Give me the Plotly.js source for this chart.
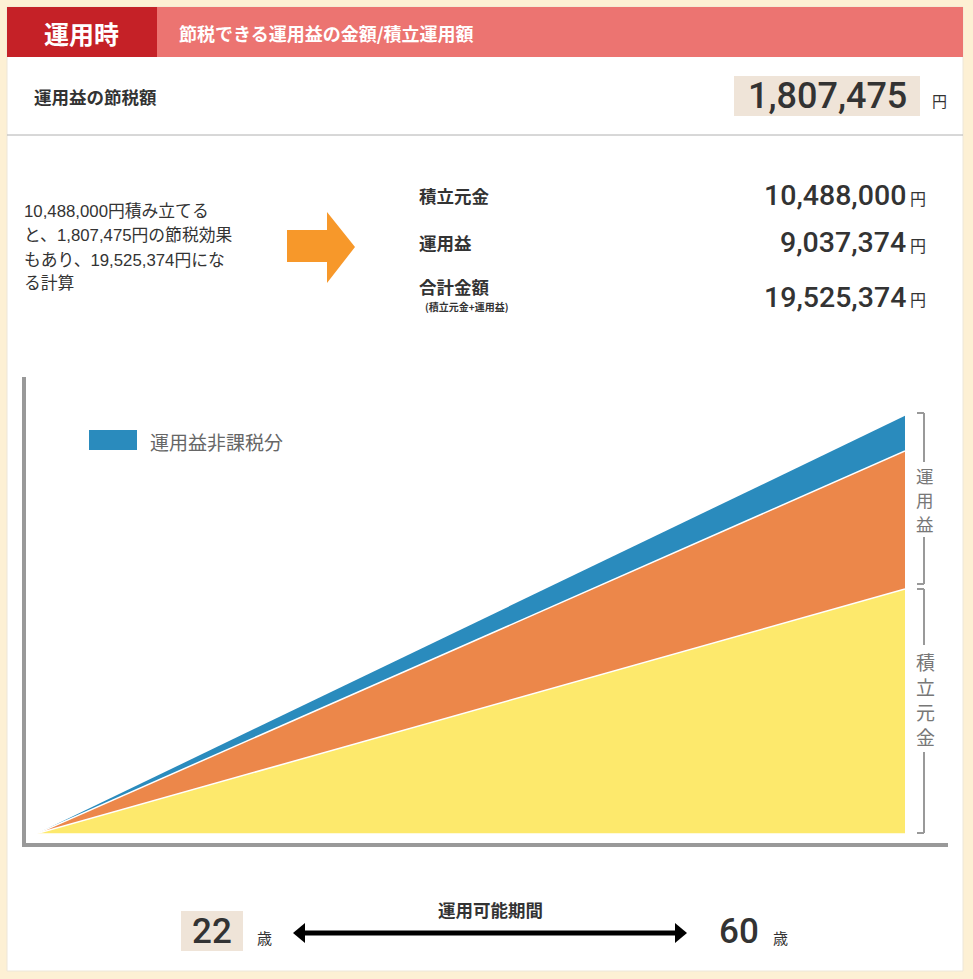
<!DOCTYPE html>
<html>
<head>
<meta charset="utf-8">
<script src="https://cdn.plot.ly/plotly-3.0.1.min.js"></script>
<style>html,body{margin:0;padding:0;background:#FDF0D4;}#chart{width:973px;height:979px;}</style>
</head>
<body>
<div id="chart"></div>
<script>
// ---- data ----
const ages = [22, 60];
const principal = [0, 1048.8];     // 積立元金 (chart units)
const earnings = [0, 592];         // 運用益 band
const taxFree = [0, 151];          // 運用益非課税分 band
const seriesNames = ['積立元金', '運用益', '運用益非課税分'];
const headerTag = '運用時';
const headerTitle = '節税できる運用益の金額/積立運用額';
const savingLabel = '運用益の節税額';
const savingValue = '1,807,475';
const paragraph = ['10,488,000円積み立てる', 'と、1,807,475円の節税効果', 'もあり、19,525,374円にな', 'る計算'];
const tableLabels = ['積立元金', '運用益', '合計金額'];
const tableValues = ['10,488,000', '9,037,374', '19,525,374'];
const tableNote = '(積立元金+運用益)';
const periodLabel = '運用可能期間';
const startAge = '22', endAge = '60';

// ---- helpers ----
const W = 973, H = 979;
const px = x => x / W;
const py = y => 1 - y / H;
const CJK = '"Noto Sans CJK JP", sans-serif';
const NUM = 'Roboto, "Noto Sans CJK JP", sans-serif';
const PARA = '"Liberation Sans", "Noto Sans CJK JP", sans-serif';

function rect(x0, y0, x1, y1, fill, extra) {
  return Object.assign({type: 'rect', xref: 'paper', yref: 'paper', x0: px(x0), x1: px(x1), y0: py(y1), y1: py(y0),
    fillcolor: fill, line: {width: 0}, layer: 'below'}, extra || {});
}
function line(x0, y0, x1, y1, color, w) {
  return {type: 'line', xref: 'paper', yref: 'paper', x0: px(x0), x1: px(x1), y0: py(y0), y1: py(y1),
    line: {color: color, width: w}, layer: 'above'};
}
function poly(pts, fill) {
  const d = pts.map((p, i) => (i ? 'L' : 'M') + px(p[0]) + ',' + py(p[1])).join(' ') + ' Z';
  return {type: 'path', xref: 'paper', yref: 'paper', path: d, fillcolor: fill, line: {width: 0}, layer: 'above'};
}
function txt(text, x, y, size, color, opts) {
  const o = Object.assign({}, opts || {});
  const fam = o.family || CJK; const wt = o.weight || 'normal';
  delete o.family; delete o.weight;
  return Object.assign({text: text, xref: 'paper', yref: 'paper', x: px(x), y: py(y), showarrow: false,
    xanchor: 'left', yanchor: 'middle', font: {family: fam, size: size, color: color, weight: wt}}, o);
}

const shapes = [
  rect(7, 7, 963, 971, '#FFFFFF', {line: {color: '#EDE6D8', width: 1}}),
  rect(7, 7, 157, 57, '#C52127'),
  rect(157, 7, 963, 57, '#EC7471'),
  rect(734, 76, 920, 116, '#EFE4D8'),
  line(7, 135, 963, 135, '#B0B0B0', 1),
  poly([[287, 230], [327, 230], [327, 212], [355, 247], [327, 283], [327, 262], [287, 262]], '#F7982A'),
  line(24, 377, 24, 847, '#999999', 4),
  line(22, 845, 948, 845, '#999999', 4),
  // brackets
  line(917, 413, 924, 413, '#999999', 2),
  line(924, 413, 924, 462, '#999999', 2),
  line(924, 537, 924, 584, '#999999', 2),
  line(917, 584, 924, 584, '#999999', 2),
  line(917, 589, 924, 589, '#999999', 2),
  line(924, 589, 924, 645, '#999999', 2),
  line(924, 752, 924, 833, '#999999', 2),
  line(917, 833, 924, 833, '#999999', 2),
  // legend swatch
  rect(89, 430, 137, 450, '#2A8BBD', {layer: 'above'}),
  // bottom
  rect(181, 911, 243, 951, '#EFE4D8'),
  line(302, 933, 678, 933, '#000000', 5),
  poly([[293, 933], [305, 923], [305, 943]], '#000000'),
  poly([[687, 933], [675, 923], [675, 943]], '#000000')
];

const annotations = [
  txt(headerTag, 81, 33, 25, '#FFFFFF', {xanchor: 'center', weight: 'bold'}),
  txt(headerTitle, 177, 33, 18, '#FFFFFF', {weight: 'bold'}),
  txt(savingLabel, 32, 97, 17.5, '#333333', {weight: 'bold'}),
  txt(savingValue, 827, 96, 36, '#333333', {xanchor: 'center', family: NUM, weight: 500}),
  txt('円', 930, 101, 15, '#333333'),
  txt(tableNote, 466, 307, 10, '#333333', {xanchor: 'center', weight: 'bold'}),
  txt(periodLabel, 490, 909, 17.5, '#333333', {xanchor: 'center', weight: 'bold'}),
  txt(startAge, 212, 931, 35, '#333333', {xanchor: 'center', family: NUM, weight: 500}),
  txt('歳', 255, 937, 15, '#333333'),
  txt(endAge, 739, 931, 35, '#333333', {xanchor: 'center', family: NUM, weight: 500}),
  txt('歳', 771, 937, 15, '#333333'),
  txt(seriesNames[2], 148, 441, 19, '#666666')
];
// vertical bracket labels, one character per line
'運用益'.split('').forEach((c, i) => annotations.push(txt(c, 925, 475.5 + i * 24, 17.5, '#777777', {xanchor: 'center'})));
'積立元金'.split('').forEach((c, i) => annotations.push(txt(c, 925, 661 + i * 25, 19, '#777777', {xanchor: 'center'})));
paragraph.forEach((s, i) => {
  annotations.push(txt(s, 22, [211, 236, 260, 283][i], 16.8, '#333333', {family: PARA}));
});
const valY = [196, 243, 297];
tableLabels.forEach((s, i) => {
  annotations.push(txt(s, 417, [195, 243, 287][i], 17.5, '#333333', {weight: 'bold'}));
  annotations.push(txt(tableValues[i], 908, valY[i], 28.5, '#333333', {xanchor: 'right', family: NUM, weight: 500}));
  annotations.push(txt('円', 908, valY[i] + 2, 16, '#333333'));
});

const traces = [
  {x: ages, y: principal, name: seriesNames[0], type: 'scatter', mode: 'lines', stackgroup: 'a',
   fillcolor: '#FDE96C', line: {color: '#FFFFFF', width: 1.5}, hoverinfo: 'skip'},
  {x: ages, y: earnings, name: seriesNames[1], type: 'scatter', mode: 'lines', stackgroup: 'a',
   fillcolor: '#EC874A', line: {color: '#FFFFFF', width: 1.5}, hoverinfo: 'skip'},
  {x: ages, y: taxFree, name: seriesNames[2], type: 'scatter', mode: 'lines', stackgroup: 'a',
   fillcolor: '#2A8BBD', line: {color: '#FFFFFF', width: 0}, hoverinfo: 'skip'}
];

const layout = {
  width: W, height: H,
  margin: {l: 0, r: 0, t: 0, b: 0},
  paper_bgcolor: '#FDF0D4',
  plot_bgcolor: 'rgba(0,0,0,0)',
  showlegend: false,
  xaxis: {domain: [px(37), px(905)], range: [22, 60], visible: false, fixedrange: true},
  yaxis: {domain: [py(833.5), py(367.3)], range: [0, 2000], visible: false, fixedrange: true},
  shapes: shapes,
  annotations: annotations
};
Plotly.newPlot('chart', traces, layout, {staticPlot: true, displayModeBar: false});
</script>
</body>
</html>
